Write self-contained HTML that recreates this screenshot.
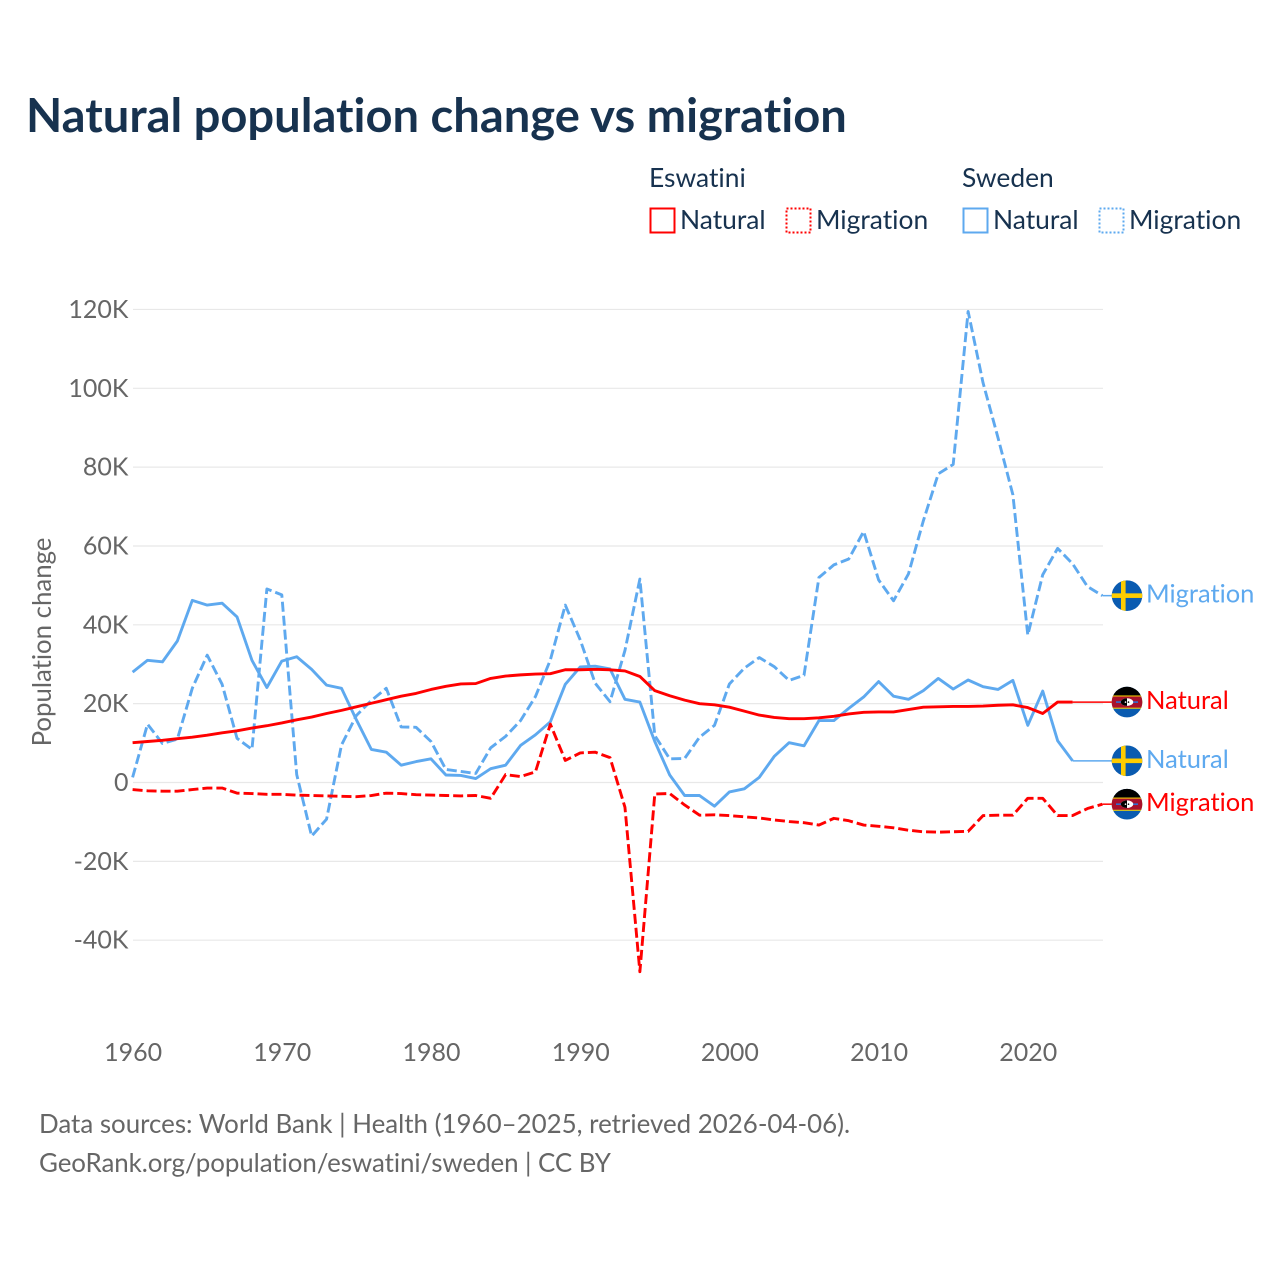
<!DOCTYPE html>
<html lang="en">
<head>
<meta charset="utf-8">
<title>Natural population change vs migration</title>
<style>
html,body{margin:0;padding:0;background:#fff;width:1280px;height:1280px;overflow:hidden}
svg{display:block}
text{font-family:"Lato","Carlito","Liberation Sans",sans-serif;font-variant-ligatures:none;font-feature-settings:"liga" 0,"clig" 0}
</style>
</head>
<body>
<svg id="chart" xmlns="http://www.w3.org/2000/svg" width="1280" height="1280" viewBox="0 0 1280 1280">
  <defs>
    <clipPath id="flag-clip"><circle cx="0" cy="0" r="15.3"/></clipPath>
    <g id="flag-se">
      <g clip-path="url(#flag-clip)">
        <rect x="-16" y="-16" width="32" height="32" fill="#0a5bb0"/>
        <rect x="-6" y="-16" width="4.6" height="32" fill="#fecc00"/>
        <rect x="-16" y="-2.3" width="32" height="4.6" fill="#fecc00"/>
      </g>
    </g>
    <g id="flag-sz">
      <g clip-path="url(#flag-clip)">
        <rect x="-16" y="-16" width="32" height="32" fill="#0a5bb0"/>
        <rect x="-16" y="-16" width="32" height="9.5" fill="#000"/>
        <rect x="-16" y="-6.6" width="32" height="13.2" fill="#ffd900"/>
        <rect x="-16" y="-5.6" width="32" height="11.2" fill="#a8112c"/>
        <rect x="-11" y="-0.8" width="22" height="1.6" fill="#2f6fd0"/>
        <ellipse cx="0" cy="0" rx="6.2" ry="3.8" fill="#fff"/>
        <path d="M0-3.8A6.2 3.8 0 0 0 0 3.8Z" fill="#000"/>
        <circle cx="-1.5" cy="0" r="0.8" fill="#fff"/>
        <circle cx="1.5" cy="0" r="0.8" fill="#000"/>
      </g>
    </g>
  </defs>

  <text x="26" y="132" font-size="47.1" font-weight="700" fill="#17324f">Natural population change vs migration</text>

  <g font-size="26.4" fill="#17324f">
    <text x="649" y="187">Eswatini</text>
    <text x="962" y="187">Sweden</text>
    <rect x="650.5" y="208.5" width="24" height="24" fill="none" stroke="#ff0000" stroke-width="2"/>
    <text x="680" y="229">Natural</text>
    <rect x="786.5" y="208.5" width="24" height="24" fill="none" stroke="#ff0000" stroke-width="2" stroke-dasharray="2 2"/>
    <text x="816" y="229">Migration</text>
    <rect x="963.5" y="208.5" width="24" height="24" fill="none" stroke="#5ea9ef" stroke-width="2"/>
    <text x="993" y="229">Natural</text>
    <rect x="1099.5" y="208.5" width="24" height="24" fill="none" stroke="#5ea9ef" stroke-width="2" stroke-dasharray="2 2"/>
    <text x="1129" y="229">Migration</text>
  </g>

  <text transform="translate(51,642) rotate(-90)" text-anchor="middle" font-size="25.8" fill="#666666">Population change</text>

  <g id="grid"></g>
  <g id="yticks" font-size="25" fill="#666666" text-anchor="end"></g>
  <g id="xticks" font-size="25" fill="#666666" text-anchor="middle"></g>
  <g id="series" fill="none" stroke-linejoin="round"></g>
  <g id="endlabels" font-size="25.5"></g>

  <g font-size="25.9" fill="#666666">
    <text x="39" y="1133">Data sources: World Bank | Health (1960–2025, retrieved 2026-04-06).</text>
    <text x="39" y="1172" letter-spacing="-0.065">GeoRank.org/population/eswatini/sweden | CC BY</text>
  </g>
</svg>

<script>
// Values are in thousands of people; index 0 is firstYear.
const firstYear = 1960;
const xTickYears = [1960, 1970, 1980, 1990, 2000, 2010, 2020];
const yTickValues = [120, 100, 80, 60, 40, 20, 0, -20, -40];

const swedenNatural = [28.0,31.0,30.6,35.9,46.2,45.0,45.5,42.0,31.0,24.1,30.8,31.9,28.7,24.7,23.9,15.9,8.4,7.7,4.4,5.3,6.0,1.9,1.8,1.0,3.5,4.4,9.4,12.1,15.4,24.9,29.3,29.5,28.8,21.1,20.4,10.4,1.9,-3.3,-3.3,-6.0,-2.4,-1.6,1.3,6.6,10.1,9.3,15.7,15.7,18.8,21.7,25.6,21.9,21.1,23.3,26.4,23.7,26.0,24.3,23.6,25.9,14.5,23.2,10.6,5.5];

const swedenMigration = [1.3,14.8,9.9,11.0,23.9,32.3,24.9,11.2,8.4,49.1,47.6,2.0,-13.6,-9.3,9.5,17.0,20.8,23.9,14.1,14.0,10.4,3.3,2.8,2.3,8.8,11.7,15.7,21.8,31.1,45.0,36.2,25.2,20.5,33.5,51.6,11.9,6.0,6.1,11.5,14.5,25.0,29.0,31.7,29.4,25.9,27.2,52.0,55.2,56.7,63.7,51.4,46.1,52.9,66.4,78.3,80.7,119.5,101.4,87.5,73.0,37.4,52.7,59.4,55.5,49.7,47.4];

const eswatiniNatural = [10.1,10.4,10.7,11.1,11.5,12.0,12.6,13.1,13.8,14.4,15.1,15.9,16.6,17.5,18.3,19.2,20.1,21.0,21.9,22.6,23.6,24.4,25.0,25.1,26.4,27.0,27.3,27.5,27.6,28.6,28.6,28.7,28.6,28.3,26.9,23.3,22.0,20.9,20.0,19.7,19.1,18.1,17.1,16.5,16.2,16.2,16.4,16.8,17.4,17.8,17.9,17.9,18.5,19.1,19.2,19.3,19.3,19.4,19.6,19.7,19.0,17.5,20.4,20.4];

const eswatiniMigration = [-1.8,-2.1,-2.2,-2.2,-1.8,-1.4,-1.4,-2.7,-2.8,-3.0,-3.0,-3.2,-3.3,-3.4,-3.5,-3.6,-3.3,-2.7,-2.8,-3.1,-3.2,-3.3,-3.4,-3.3,-4.0,2.0,1.5,2.7,14.8,5.6,7.5,7.7,6.3,-6.3,-48.0,-2.9,-2.8,-5.7,-8.3,-8.2,-8.4,-8.7,-9.0,-9.5,-9.9,-10.2,-10.8,-9.1,-9.7,-10.8,-11.1,-11.5,-12.1,-12.5,-12.6,-12.5,-12.4,-8.4,-8.3,-8.3,-4.0,-4.0,-8.4,-8.4,-6.6,-5.5];

const RED = '#ff0000';
const BLUE = '#5ea9ef';
const NS = 'http://www.w3.org/2000/svg';
const plotLeft = 133, plotRight = 1103, labelStart = 1112, flagX = 1127, labelX = 1146;

function xScale(year) { return 132.6 + (year - 1960) * 14.92; }
function yScale(v) { return 782.5 - v * 3.942; }
function make(tag, attrs, parent) {
  const el = document.createElementNS(NS, tag);
  for (const k in attrs) el.setAttribute(k, attrs[k]);
  parent.appendChild(el);
  return el;
}
function tickLabel(v) { return v === 0 ? '0' : v + 'K'; }

const gridG = document.getElementById('grid');
const yTickG = document.getElementById('yticks');
const xTickG = document.getElementById('xticks');
const seriesG = document.getElementById('series');
const endG = document.getElementById('endlabels');

yTickValues.forEach(function (v) {
  const line = make('line', {x1: plotLeft, x2: plotRight, y1: yScale(v), y2: yScale(v), stroke: '#e8e8e8', 'stroke-width': 1.2}, gridG);
  
  
  const t = make('text', {x: 128.5, y: yScale(v) + 8.5}, yTickG);
  t.textContent = tickLabel(v);
  
  
});

xTickYears.forEach(function (yr) {
  const t = make('text', {x: xScale(yr) + 0.5, y: 1061}, xTickG);
  t.textContent = String(yr);
  
  
});

function drawSeries(values, color, dashed, seriesName) {
  const pts = values.map(function (v, i) { return xScale(firstYear + i).toFixed(2) + ',' + yScale(v).toFixed(2); });
  const attrs = {points: pts.join(' '), stroke: color, 'stroke-width': 2.9};
  if (dashed) attrs['stroke-dasharray'] = '10 4';
  const line = make('polyline', attrs, seriesG);
  
  
  const lastIdx = values.length - 1;
  const lastY = yScale(values[lastIdx]);
  const conn = make('line', {x1: xScale(firstYear + lastIdx), x2: labelStart, y1: lastY, y2: lastY, stroke: color, 'stroke-width': 1.5}, seriesG);
  
  
}

function drawEndLabel(values, color, flagId, text, seriesName) {
  const cy = yScale(values[values.length - 1]);
  const flag = make('use', {href: '#' + flagId, x: flagX, y: cy}, endG);
  
  
  const t = make('text', {x: labelX, y: cy + 7, fill: color}, endG);
  t.textContent = text;
  
  
}

drawSeries(swedenMigration, BLUE, true, 'sweden-migration');
drawSeries(swedenNatural, BLUE, false, 'sweden-natural');
drawSeries(eswatiniMigration, RED, true, 'eswatini-migration');
drawSeries(eswatiniNatural, RED, false, 'eswatini-natural');

drawEndLabel(swedenMigration, BLUE, 'flag-se', 'Migration', 'sweden-migration');
drawEndLabel(eswatiniNatural, RED, 'flag-sz', 'Natural', 'eswatini-natural');
drawEndLabel(swedenNatural, BLUE, 'flag-se', 'Natural', 'sweden-natural');
drawEndLabel(eswatiniMigration, RED, 'flag-sz', 'Migration', 'eswatini-migration');
</script>
</body>
</html>
